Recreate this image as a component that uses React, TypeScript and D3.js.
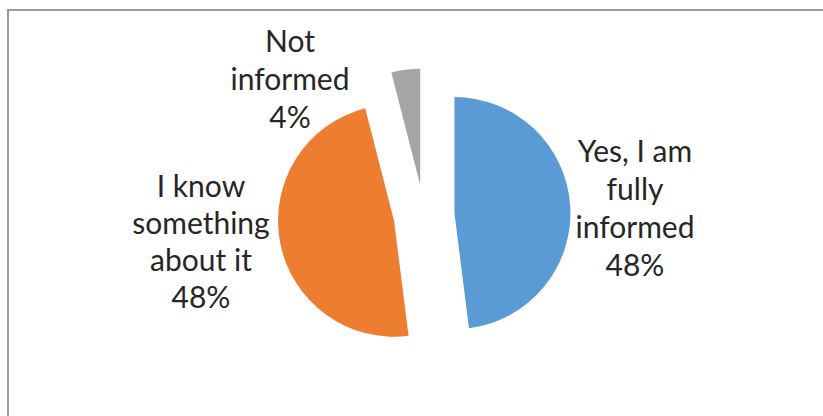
import React from "react";
import * as d3 from "d3";

const categories = ["Yes, I am fully informed", "I know something about it", "Not informed"];
const values = [48, 48, 4];
const labelLines = [
  ["Yes, I am", "fully", "informed", "48%"],
  ["I know", "something", "about it", "48%"],
  ["Not", "informed", "4%"],
];
const colors = ["#5B9BD5", "#ED7D31", "#A5A5A5"];

const W = 823;
const H = 416;
const cx = 424;
const cy = 215;
const R = 116;
const explode = 30.5;

const labelPos = [
  { x: 635, y: 162 },
  { x: 201, y: 197 },
  { x: 290, y: 52 },
];
const lineH = 38;

export default function App() {
  const pie = d3.pie<number>().sort(null).value((d) => d)(values);
  const arc = d3.arc<d3.PieArcDatum<number>>().innerRadius(0).outerRadius(R);
  return (
    <svg
      width={W}
      height={H}
      style={{ position: "absolute", left: 0, top: 0 }}
      fontFamily="Lato, 'Liberation Sans', sans-serif"
    >
      <rect width={W} height={H} fill="#fff" />
      <path d={`M8,${H} V10 H${W}`} fill="none" stroke="#999" strokeWidth={2} />
      {pie.map((p, i) => {
        const mid = (p.startAngle + p.endAngle) / 2;
        const dx = Math.sin(mid) * explode;
        const dy = -Math.cos(mid) * explode;
        return (
          <path
            key={categories[i]}
            d={arc(p) || ""}
            transform={`translate(${cx + dx},${cy + dy})`}
            fill={colors[i]}
          />
        );
      })}
      {labelLines.map((lines, i) => (
        <text
          key={i}
          x={labelPos[i].x}
          y={labelPos[i].y}
          textAnchor="middle"
          fontSize={30}
          fill="#262626"
        >
          {lines.map((l, j) => (
            <tspan key={j} x={labelPos[i].x} y={labelPos[i].y + j * (i === 1 ? 37 : lineH)}>
              {l}
            </tspan>
          ))}
        </text>
      ))}
    </svg>
  );
}
